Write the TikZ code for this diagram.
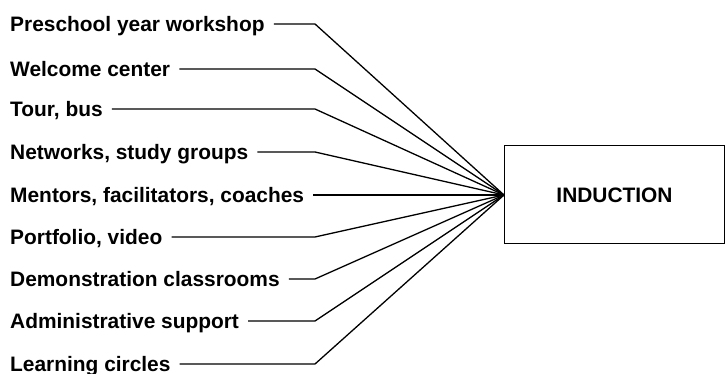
\documentclass[tikz,border=0pt]{standalone}
\usepackage{fontspec}
\setmainfont{Liberation Sans}
\begin{document}
\begin{tikzpicture}[x=1pt,y=1pt,
  lbl/.style={anchor=west,font=\fontsize{20.9}{22}\selectfont\bfseries,inner xsep=9pt,inner ysep=0pt,text height=15pt,text depth=0pt},
  conn/.style={draw=black,line width=1.3pt,line join=miter},
  mainbox/.style={draw=black,line width=1pt,minimum width=220pt,minimum height=98pt,anchor=west,font=\fontsize{20.9}{22}\selectfont\bfseries,inner sep=0pt}]
\useasboundingbox (0,0) rectangle (725,374);
\node[mainbox] (ind) at (504,179) {INDUCTION};
\coordinate (hub) at (ind.west);
\foreach \i/\y/\t in {1/24/{Preschool year workshop},2/69/{Welcome center},3/109/{Tour, bus},4/152/{Networks, study groups},5/195/{Mentors, facilitators, coaches},6/237/{Portfolio, video},7/279/{Demonstration classrooms},8/321/{Administrative support},9/364/{Learning circles}}{
  \node[lbl] (l\i) at (1,374-\y) {\t};
  \coordinate (b\i) at (315,374-\y);
  \draw[conn] (l\i.east) -- (b\i) -- (hub);
}
\end{tikzpicture}
\end{document}
